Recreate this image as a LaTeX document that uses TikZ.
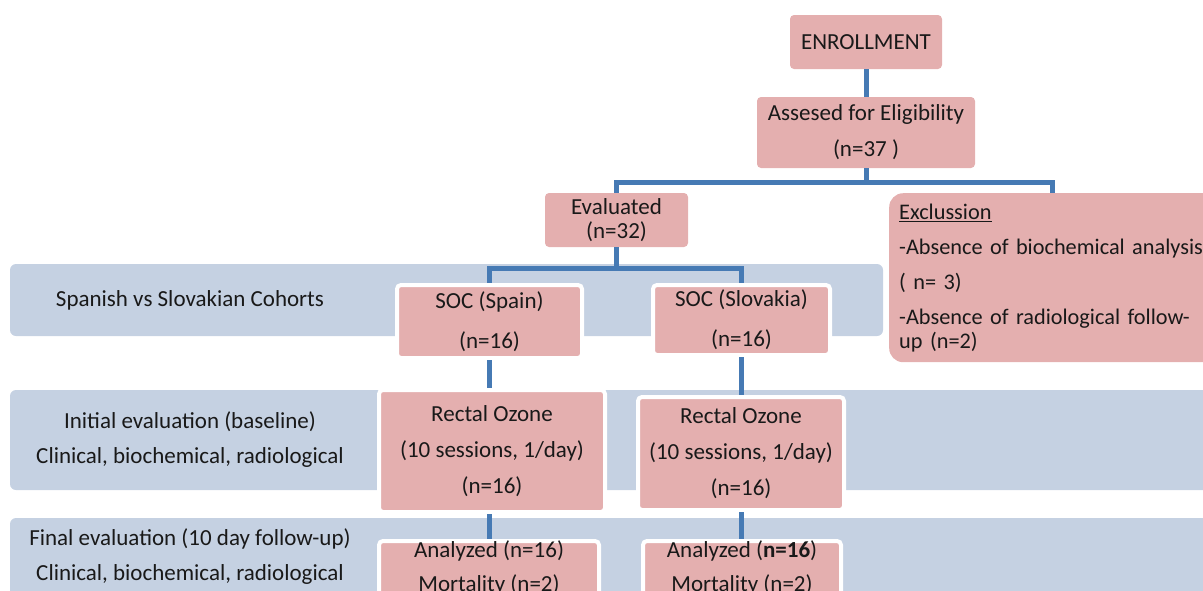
\documentclass[tikz,border=0pt]{standalone}
\usepackage{fontspec}
\setmainfont{Carlito}
\definecolor{boxpink}{RGB}{228,175,175}
\definecolor{bandblue}{RGB}{197,209,226}
\definecolor{linkblue}{RGB}{70,122,180}
\begin{document}
\begin{tikzpicture}[x=1pt, y=-1pt,
    box/.style={fill=boxpink, rounded corners=4pt, align=center, inner sep=0pt,
      text=black!90, font=\fontsize{23}{24}\selectfont},
    armbox/.style={box, draw=white, line width=4pt},
    band/.style={fill=bandblue, rounded corners=6pt},
    bandtext/.style={align=center, text=black!90, font=\fontsize{23}{24}\selectfont},
    link/.style={draw=linkblue, line width=5pt}]
    \useasboundingbox (0,0) rectangle (1203,590);
    \clip (0,0) rectangle (1203,590);
    \fill[band] (10,264) rectangle (883,336);
    \fill[band] (10,390) rectangle (1220,490);
    \fill[band] (10,518) rectangle (1220,620);
    \node[bandtext] (cohorts) at (190,300) {Spanish vs Slovakian Cohorts};
    \node[bandtext] (initial) at (190,440) {Initial evaluation (baseline)\\[11pt]Clinical, biochemical, radiological};
    \node[bandtext] (final) at (190,557) {Final evaluation (10 day follow-up)\\[11pt]Clinical, biochemical, radiological};
    \node[box, minimum width=152, minimum height=54] (enr) at (866,42) {ENROLLMENT};
    \node[box, minimum width=218, minimum height=71] (elig) at (866,132.5) {Assesed for Eligibility\\[12pt](n=37 )};
    \node[box, minimum width=143, minimum height=54] (eval) at (616.5,220) {Evaluated\\(n=32)};
    \node[box, rounded corners=14pt, anchor=north west, align=left, text width=340,
      inner xsep=10pt, minimum height=169, font=\fontsize{22.3}{24}\selectfont] (excl) at (889,193)
      {\underline{Exclussion}\\[11pt]-Absence of biochemical analysis\\[11pt]( n= 3)\\[11pt]-Absence of radiological follow-\\up (n=2)};
    \coordinate (exin) at (1052,193);
    \node[armbox, minimum width=185, minimum height=73] (socs) at (489.5,321.5) {SOC (Spain)\\[16pt](n=16)};
    \node[armbox, minimum width=177, minimum height=70] (socl) at (741.5,320) {SOC (Slovakia)\\[16pt](n=16)};
    \node[armbox, minimum width=226, minimum height=122] (ros) at (492,451) {Rectal Ozone\\[12pt](10 sessions, 1/day)\\[12pt](n=16)};
    \node[armbox, minimum width=206, minimum height=113] (rol) at (741,453.5) {Rectal Ozone\\[12pt](10 sessions, 1/day)\\[12pt](n=16)};
    \node[armbox, anchor=north, minimum width=220, text depth=40pt] (ans) at (489,539) {Analyzed (n=16)\\[10pt]Mortality (n=2)};
    \node[armbox, anchor=north, minimum width=198, text depth=40pt] (anl) at (742,539) {Analyzed (\textbf{n=16})\\[10pt]Mortality (n=2)};
    \draw[link] (enr.south) -- (elig.north);
    \draw[link] (elig.south) -- ++(0,14) -| (eval.north);
    \draw[link] (elig.south) -- ++(0,14) -| (exin);
    \draw[link] (eval.south) -- ++(0,21) -| (socs.north);
    \draw[link] (eval.south) -- ++(0,21) -| (socl.north);
    \draw[link] (socs.south) -- (socs.south |- ros.north);
    \draw[link] (socl.south) -- (socl.south |- rol.north);
    \draw[link] (ros.south -| socs.south) -- (socs.south |- ans.north);
    \draw[link] (rol.south -| socl.south) -- (socl.south |- anl.north);
\end{tikzpicture}
\end{document}
